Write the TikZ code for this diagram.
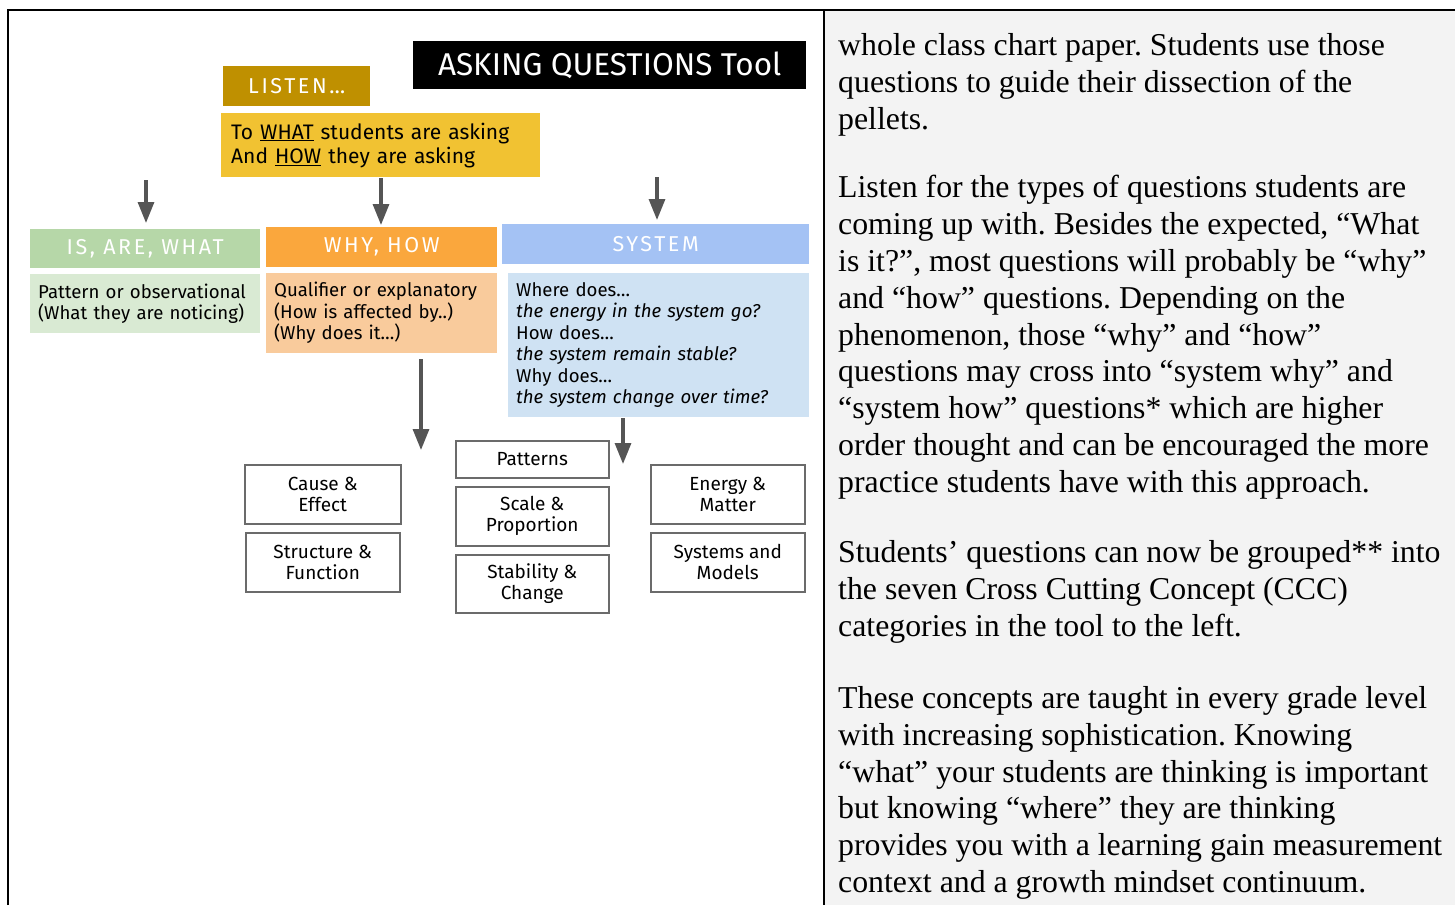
\documentclass[tikz,border=0pt]{standalone}
\usepackage{fontspec}
\setmainfont{Liberation Serif}
\newfontfamily\toolfont{Fira Sans}
\newfontfamily\headfont[LetterSpace=12]{Fira Sans}
\usetikzlibrary{arrows.meta,positioning}
\frenchspacing
\definecolor{goldbox}{HTML}{BF9000}
\definecolor{yellowbox}{HTML}{F1C232}
\definecolor{greenhead}{HTML}{B6D7A8}
\definecolor{greenbody}{HTML}{D9EAD3}
\definecolor{orangehead}{HTML}{FAA73D}
\definecolor{orangebody}{HTML}{F9CB9C}
\definecolor{bluehead}{HTML}{A4C2F4}
\definecolor{bluebody}{HTML}{CFE2F3}
\definecolor{flowgray}{HTML}{555555}
\definecolor{cccline}{HTML}{6B6B6B}
\definecolor{panelgray}{HTML}{F3F3F3}
\tikzset{
  tool head/.style={anchor=north west,inner sep=0pt,text=white,font=\headfont\fontsize{21.5}{24}\selectfont},
  tool body/.style={anchor=north west,inner ysep=0pt,inner xsep=8pt,align=left,font=\toolfont\fontsize{18.6}{21.5}\selectfont},
  ccc box/.style={draw=cccline,line width=1.5pt,fill=white,anchor=north west,inner sep=0pt,align=center,font=\toolfont\fontsize{19}{21}\selectfont},
  flow/.style={draw=flowgray,line width=3.2pt,-{Triangle[length=21pt,width=16pt]}},
  note text/.style={anchor=north west,inner sep=0pt,align=left,font=\fontsize{31.8}{36.8}\selectfont}
}

\begin{document}
\begin{tikzpicture}[x=1pt,y=-1pt,line cap=butt,line join=miter]
  \useasboundingbox (0,0) rectangle (1455,905);
  \fill[panelgray] (824,10) rectangle (1455,905);
  \draw[line width=2.5pt] (8,905) -- (8,10) -- (1455,10) (824,10) -- (824,905);

  \node[tool head,fill=black,minimum width=393pt,minimum height=48pt,font=\toolfont\fontsize{31.5}{34}\selectfont] (title) at (413,41) {ASKING QUESTIONS Tool};
  \node[tool head,fill=goldbox,minimum width=147pt,minimum height=40pt] (listen) at (223,66) {LISTEN\ldots};
  \node[tool body,fill=yellowbox,inner xsep=10pt,text width=299pt,minimum height=64pt,font=\toolfont\fontsize{21}{24}\selectfont] (focus) at (221,113)
    {To \underline{WHAT} students are asking\\And \underline{HOW} they are asking};

  \node[tool head,fill=greenhead,minimum width=230pt,minimum height=39pt] (isHead) at (30,229) {IS, ARE, WHAT};
  \node[tool head,fill=orangehead,minimum width=231pt,minimum height=40pt] (whyHead) at (266,227) {WHY, HOW};
  \node[tool head,fill=bluehead,minimum width=307pt,minimum height=40pt] (sysHead) at (502,224) {SYSTEM};

  \node[tool body,fill=greenbody,text width=214pt,minimum height=59pt] (isBody) at (30,274)
    {Pattern or observational\\(What they are noticing)};
  \node[tool body,fill=orangebody,text width=215pt,minimum height=80pt] (whyBody) at (266,273)
    {Qualifier or explanatory\\(How is affected by..)\\(Why does it…)};
  \node[tool body,fill=bluebody,text width=285pt,minimum height=144pt] (sysBody) at (508,273)
    {Where does…\\\textit{the energy in the system go?}\\How does…\\\textit{the system remain stable?}\\Why does…\\\textit{the system change over time?}};

  \node[ccc box,minimum width=156pt,minimum height=59pt] (cause) at (244,464) {Cause \&\\Effect};
  \node[ccc box,minimum width=154pt,minimum height=59pt] (structure) at (245,532) {Structure \&\\Function};
  \node[ccc box,minimum width=153pt,minimum height=37pt] (patterns) at (455,440) {Patterns};
  \node[ccc box,minimum width=153pt,minimum height=59pt] (scale) at (455,486) {Scale \&\\Proportion};
  \node[ccc box,minimum width=153pt,minimum height=58pt] (stability) at (455,554) {Stability \&\\Change};
  \node[ccc box,minimum width=154pt,minimum height=59pt] (energy) at (650,464) {Energy \&\\Matter};
  \node[ccc box,minimum width=154pt,minimum height=59pt] (systems) at (650,532) {Systems and\\Models};

  \coordinate (isTop)  at (146,180);
  \coordinate (whyTop) at (381,178);
  \coordinate (sysTop) at (657,177);
  \coordinate (whyEnd) at (421,450);
  \coordinate (sysEnd) at (623,464);
  \draw[flow,shorten >=6pt] (isTop) -- (isTop |- isHead.north);
  \draw[flow,shorten >=2pt] (whyTop) -- (whyTop |- whyHead.north);
  \draw[flow,shorten >=4pt] (sysTop) -- (sysTop |- sysHead.north);
  \draw[flow,shorten <=6pt] (whyEnd |- whyBody.south) -- (whyEnd);
  \draw[flow,shorten <=1pt] (sysEnd |- sysBody.south) -- (sysEnd);

  \node[note text] (noteA) at (838,33.3)
    {whole class chart paper. Students use those\\questions to guide their dissection of the\\pellets.};
  \node[note text] (noteB) at (838,175.3)
    {Listen for the types of questions students are\\coming up with. Besides the expected, “What\\is it?”, most questions will probably be “why”\\and “how” questions. Depending on the\\phenomenon, those “why” and “how”\\questions may cross into “system why” and\\“system how” questions* which are higher\\order thought and can be encouraged the more\\practice students have with this approach.};
  \node[note text] (noteC) at (838,540.3)
    {Students’ questions can now be grouped** into\\the seven Cross Cutting Concept (CCC)\\categories in the tool to the left.};
  \node[note text] (noteD) at (838,686.3)
    {These concepts are taught in every grade level\\with increasing sophistication. Knowing\\“what” your students are thinking is important\\but knowing “where” they are thinking\\provides you with a learning gain measurement\\context and a growth mindset continuum.};
\end{tikzpicture}
\end{document}
